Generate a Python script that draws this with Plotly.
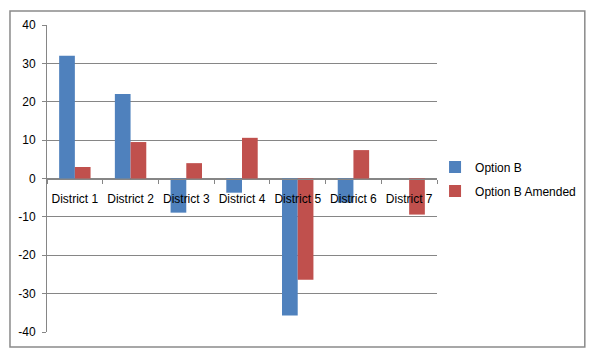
import plotly.graph_objects as go

categories = ["District 1", "District 2", "District 3", "District 4", "District 5", "District 6", "District 7"]
option_b = [32.0, 22.0, -8.9, -3.7, -35.7, -6.3, 0.0]
option_b_amended = [3.0, 9.5, 4.0, 10.6, -26.4, 7.4, -9.4]
y_ticks = [-40, -30, -20, -10, 0, 10, 20, 30, 40]
y_tick_text = ["-40", "-30", "-20", "-10", "0", "10", "20", "30", "40"]

font_family = "Liberation Sans, Arial, sans-serif"
grid_col = "#868686"

fig = go.Figure()
fig.add_trace(go.Bar(x=categories, y=option_b, name="Option B",
                     marker=dict(color="#4F81BD", line=dict(width=0)), legendgroup="a"))
fig.add_trace(go.Bar(x=categories, y=option_b_amended, name="Option B Amended",
                     marker=dict(color="#C0504D", line=dict(width=0)), legendgroup="b"))

fig.update_layout(
    width=589, height=351,
    margin=dict(l=39, r=160, t=17, b=27, autoexpand=False),
    paper_bgcolor="white", plot_bgcolor="white",
    barmode="group", bargap=0.436, bargroupgap=0,
    font=dict(family=font_family, size=12, color="#000000"),
    showlegend=True,
    legend=dict(x=0.995, xanchor="left", y=0.498, yanchor="middle",
                traceorder="grouped", tracegroupgap=5,
                font=dict(size=12), itemwidth=30, bgcolor="rgba(0,0,0,0)"),
    xaxis=dict(type="category", anchor="free", position=0.5,
               showline=True, linecolor=grid_col, linewidth=1,
               ticks="outside", tickson="boundaries", ticklen=4, tickcolor=grid_col,
               showgrid=False, zeroline=False, ticklabelstandoff=9, tickangle=0,
               automargin=False, tickfont=dict(size=12)),
    yaxis=dict(range=[-40, 40], tickvals=y_ticks, ticktext=y_tick_text, showline=True,
               linecolor=grid_col, linewidth=1, ticks="outside", ticklen=4, tickcolor=grid_col,
               showgrid=True, gridcolor=grid_col, gridwidth=1, zeroline=False,
               ticklabelstandoff=4, automargin=False, tickfont=dict(size=12)),
    shapes=[dict(type="rect", xref="paper", yref="paper",
                 x0=-0.0949, x1=1.379, y0=-0.0489, y1=1.0456,
                 line=dict(color="#8a8a8a", width=1.5), fillcolor="rgba(0,0,0,0)", layer="below")],
)

fig.write_html("out.html")
